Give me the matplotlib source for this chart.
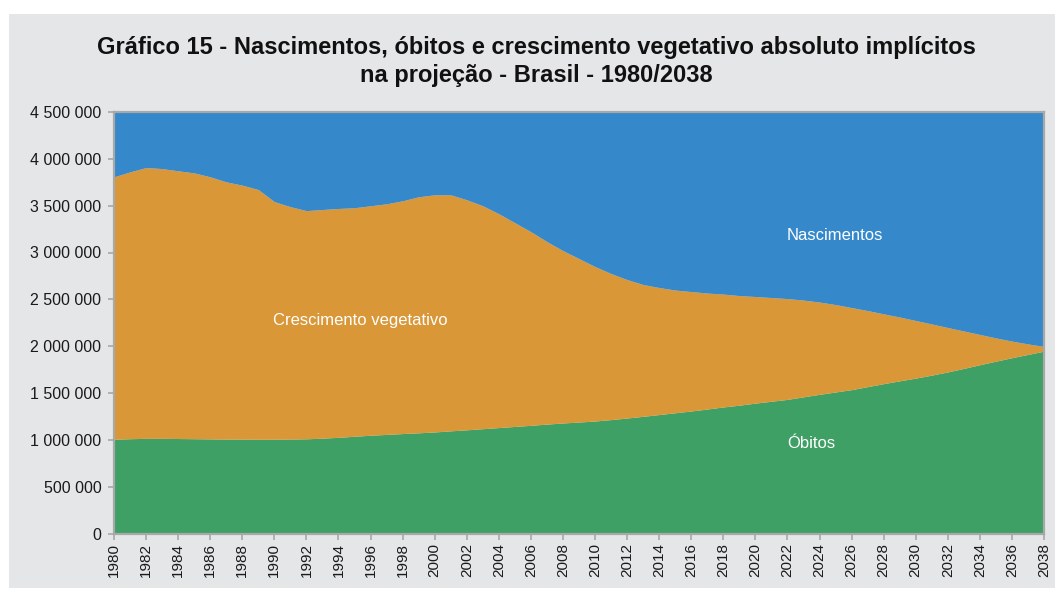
import matplotlib
matplotlib.use("Agg")
import matplotlib.pyplot as plt
from matplotlib.ticker import FuncFormatter, MultipleLocator
import numpy as np

years = list(range(1980, 2039))
# values in millions
nascimentos = [3.808, 3.861, 3.907, 3.896, 3.872, 3.850, 3.808, 3.754, 3.719, 3.672,
               3.543, 3.489, 3.447, 3.459, 3.470, 3.478, 3.499, 3.520, 3.552, 3.595,
               3.616, 3.616, 3.563, 3.499, 3.414, 3.318, 3.222, 3.116, 3.020, 2.935,
               2.850, 2.775, 2.711, 2.658, 2.626, 2.599, 2.583, 2.567, 2.556, 2.540,
               2.530, 2.519, 2.508, 2.492, 2.471, 2.444, 2.412, 2.380, 2.345, 2.311,
               2.274, 2.237, 2.199, 2.162, 2.125, 2.088, 2.054, 2.024, 1.997]
obitos = [1.006, 1.012, 1.016, 1.016, 1.014, 1.012, 1.010, 1.008, 1.007, 1.006,
          1.006, 1.008, 1.011, 1.018, 1.027, 1.038, 1.049, 1.058, 1.067, 1.075,
          1.084, 1.096, 1.107, 1.119, 1.131, 1.143, 1.155, 1.168, 1.180, 1.190,
          1.201, 1.216, 1.233, 1.251, 1.270, 1.289, 1.308, 1.329, 1.351, 1.370,
          1.392, 1.412, 1.432, 1.459, 1.486, 1.511, 1.536, 1.568, 1.600, 1.630,
          1.659, 1.691, 1.725, 1.763, 1.802, 1.840, 1.877, 1.912, 1.947]

title_l1 = "Gráfico 15 - Nascimentos, óbitos e crescimento vegetativo absoluto implícitos"
title_l2 = "na projeção - Brasil - 1980/2038"

x = np.array(years)
nasc = np.array(nascimentos) * 1e6
obit = np.array(obitos) * 1e6
ymax = 4_500_000

blue = "#3589cb"
orange = "#d99738"
green = "#3fa066"
panel = "#e5e6e8"
spine = "#a8a8a8"

fig = plt.figure(figsize=(10.55, 5.90), dpi=100)
fig.patch.set_facecolor("white")
bg = plt.Rectangle((9/1055, 2/590), 1 - 9/1055, (588-14)/590, transform=fig.transFigure,
                   facecolor=panel, edgecolor="none", zorder=-10)
fig.patches.append(bg)

ax = fig.add_axes([114/1055, 1 - 533.5/590, (1044-114)/1055, (533.5-112)/590])
ax.set_facecolor(panel)
ax.fill_between(x, 0, obit, color=green, linewidth=0)
ax.fill_between(x, obit, nasc, color=orange, linewidth=0)
ax.fill_between(x, nasc, ymax, color=blue, linewidth=0)

ax.set_xlim(1980, 2038)
ax.set_ylim(0, ymax)
ax.xaxis.set_major_locator(MultipleLocator(2))
ax.yaxis.set_major_locator(MultipleLocator(500000))
ax.yaxis.set_major_formatter(FuncFormatter(lambda v, p: f"{int(v):,}".replace(",", " ")))
for s in ax.spines.values():
    s.set_color(spine)
    s.set_linewidth(1.6)
ax.tick_params(axis="both", colors=spine, length=4, width=1.2, labelcolor="#1a1a1a")
ax.tick_params(axis="y", labelsize=11.5, pad=5)
ax.tick_params(axis="x", labelsize=11, labelrotation=90, pad=3)
for lab in ax.get_xticklabels() + ax.get_yticklabels():
    lab.set_family(["Liberation Sans", "DejaVu Sans"])

lab_font = ["Liberation Sans", "DejaVu Sans"]
fig.text(787/1055, 1 - 235/590, "Nascimentos", color="white", fontsize=12, family=lab_font,
         ha="left", va="center")
fig.text(273/1055, 1 - 320/590, "Crescimento vegetativo", color="white", fontsize=12, family=lab_font,
         ha="left", va="center")
fig.text(787/1055, 1 - 443/590, "Óbitos", color="white", fontsize=12, family=lab_font,
         ha="left", va="center")

tfont = ["Liberation Sans Narrow", "Liberation Sans", "DejaVu Sans"]
fig.text(536/1055, 1 - 47.5/590, title_l1, ha="center", va="center", fontsize=17,
         fontweight="bold", family=tfont, color="#111111")
fig.text(536/1055, 1 - 75.5/590, title_l2, ha="center", va="center", fontsize=17,
         fontweight="bold", family=tfont, color="#111111")

fig.savefig("out.png", dpi=100, facecolor=fig.get_facecolor())
